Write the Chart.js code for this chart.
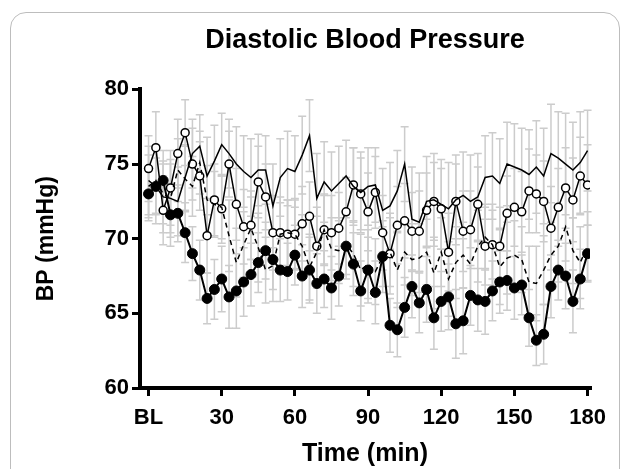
<!DOCTYPE html>
<html>
<head>
<meta charset="utf-8">
<script src="https://cdn.jsdelivr.net/npm/chart.js@4.4.1/dist/chart.umd.min.js"></script>
<style>
  html, body { margin: 0; padding: 0; background: #fff; overflow: hidden; }
  #frame { position: absolute; left: 10px; top: 12px; width: 608px; height: 490px;
           border: 1.5px solid #bdbdbd; border-radius: 16px; }
  #wrap { position: absolute; left: 0; top: 0; width: 630px; height: 469px; }
</style>
</head>
<body>
<div id="frame"></div>
<div id="wrap"><canvas id="bp"></canvas></div>
<script>
// time points (min), BL = 0
const times = [0,3,6,9,12,15,18,21,24,27,30,33,36,39,42,45,48,51,54,57,
  60,63,66,69,72,75,78,81,84,87,90,93,96,99,102,105,108,111,114,117,
  120,123,126,129,132,135,138,141,144,147,150,153,156,159,162,165,168,171,174,177,180];

const xTicks = [0, 30, 60, 90, 120, 150, 180];
const xTickLabels = ["BL", "30", "60", "90", "120", "150", "180"];
const yTicks = [60, 65, 70, 75, 80];

// solid line, no markers
const solidMean = [73.9,73.5,72.8,72.7,72.5,74.1,75.7,76.2,74.2,75.2,
  76.3,75.7,75.0,74.5,74.1,74.6,74.6,72.2,74.1,74.7,
  74.5,75.6,76.9,72.7,73.8,73.2,73.7,74.2,73.5,73.1,
  73.5,73.6,71.9,72.2,73.2,75.0,71.3,71.1,72.5,72.6,
  72.3,72.0,72.6,72.9,72.5,72.8,74.1,74.2,73.7,75.0,
  74.8,74.6,74.3,74.8,74.2,75.7,75.4,75.0,74.6,75.1,75.9];
const solidErr = [2.3,2.5,2.4,2.6,2.3,2.2,2.3,2.1,2.6,2.4,
  2.1,2.3,2.5,2.4,2.6,2.4,2.3,2.8,2.6,2.5,
  2.4,2.6,2.4,3.0,2.7,2.6,2.5,2.4,2.6,2.7,
  2.6,2.5,2.8,2.9,2.7,2.5,3.5,3.3,3.0,3.1,
  3.0,3.1,3.0,2.9,3.1,2.9,2.8,2.9,3.0,2.8,
  2.9,2.8,3.0,3.1,3.2,3.3,3.1,3.4,3.2,3.4,2.7];

// open circles
const openMean = [74.7,76.1,71.9,73.4,75.7,77.1,75.0,74.2,70.2,72.6,
  72.0,75.0,72.3,70.8,70.9,73.8,72.8,70.4,70.4,70.3,
  70.3,71.0,71.5,69.5,70.6,70.4,70.7,71.8,73.6,73.0,
  71.8,73.1,70.4,69.0,70.9,71.2,70.5,70.5,71.9,72.5,
  72.0,69.1,72.5,70.5,70.6,72.3,69.5,69.6,69.5,71.7,
  72.1,71.8,73.2,73.0,72.5,70.7,72.1,73.4,72.6,74.2,73.6];
const openErr = [2.2,2.4,2.3,2.5,2.3,2.2,2.4,2.3,2.5,2.4,
  2.3,2.2,2.4,2.5,2.3,2.4,2.2,2.5,2.4,2.3,
  2.4,2.5,2.3,2.6,2.4,2.5,2.4,2.3,2.5,2.4,
  2.6,2.4,2.5,2.7,2.6,2.5,2.6,2.7,2.5,2.6,
  2.7,2.6,2.5,2.7,2.6,2.5,2.6,2.7,2.6,2.5,
  2.6,2.7,2.8,2.6,2.7,2.8,2.6,2.7,2.8,2.6,2.7];

// dashed line, no markers
const dashedMean = [73.5,73.9,73.0,72.7,74.6,74.0,73.5,75.1,72.6,72.3,
  72.1,70.2,68.4,69.6,70.7,69.4,67.9,68.2,70.3,70.4,
  70.3,69.5,68.1,69.1,70.6,69.3,69.2,69.6,69.0,67.9,
  68.3,67.8,68.8,69.1,67.9,69.1,68.6,68.7,69.1,67.7,
  69.1,67.3,68.4,68.9,68.3,69.5,70.1,69.6,68.1,68.7,
  68.9,68.6,67.1,67.0,67.9,68.9,69.5,70.8,69.2,68.4,69.5];
const dashedErr = [2.1,2.2,2.0,2.3,2.1,2.2,2.0,2.1,2.3,2.2,
  2.1,2.4,2.3,2.2,2.1,2.3,2.2,2.4,2.1,2.2,
  2.3,2.1,2.2,2.4,2.3,2.1,2.2,2.3,2.2,2.4,
  2.3,2.2,2.4,2.3,2.5,2.2,2.4,2.3,2.2,2.4,
  2.3,2.5,2.4,2.2,2.3,2.4,2.2,2.3,2.5,2.4,
  2.3,2.2,2.4,2.5,2.3,2.2,2.4,2.3,2.2,2.4,2.3];

// filled circles
const filledMean = [73.0,73.5,73.9,71.6,71.7,70.4,69.0,67.9,66.0,66.6,
  67.3,66.1,66.5,67.1,67.6,68.4,69.2,68.6,67.9,67.8,
  68.9,67.5,67.9,67.0,67.3,66.7,67.5,69.5,68.3,66.5,
  67.9,66.4,68.8,64.2,63.9,65.4,66.8,65.7,66.6,64.7,
  65.8,66.1,64.3,64.5,66.2,65.9,65.8,66.5,67.1,67.2,
  66.7,66.9,64.7,63.2,63.6,66.8,67.9,67.5,65.8,67.3,69.0];
const filledErr = [1.8,1.9,2.0,2.1,1.9,2.0,1.8,2.0,1.7,2.0,
  2.2,2.1,2.5,2.3,2.1,2.0,1.9,2.0,2.1,1.9,
  2.0,2.1,2.2,2.0,1.9,2.1,2.0,1.9,2.1,2.0,
  2.2,2.1,2.0,1.8,1.8,2.0,2.1,2.0,2.2,2.1,
  2.0,2.2,2.3,2.2,2.0,2.1,2.2,2.0,2.1,2.0,
  2.1,2.0,1.9,1.7,2.0,2.1,2.0,2.2,2.1,2.0,1.9];

const toPoints = (ys) => times.map((t, i) => ({ x: t, y: ys[i] }));

// grey SEM bars with caps, drawn under the lines
const errorBars = {
  id: "errorBars",
  beforeDatasetsDraw(chart) {
    const ctx = chart.ctx;
    const xs = chart.scales.x, ys = chart.scales.y;
    ctx.save();
    ctx.strokeStyle = "#cccccc";
    ctx.lineWidth = 1.5;
    chart.data.datasets.forEach((ds) => {
      ds.data.forEach((p, i) => {
        const e = ds.errors[i];
        if (e == null || p.y == null) return;
        const x = xs.getPixelForValue(p.x);
        const top = ys.getPixelForValue(p.y + e);
        const bot = ys.getPixelForValue(p.y - e);
        ctx.beginPath();
        ctx.moveTo(x, top); ctx.lineTo(x, bot);
        ctx.moveTo(x - 4, top); ctx.lineTo(x + 4, top);
        ctx.moveTo(x - 4, bot); ctx.lineTo(x + 4, bot);
        ctx.stroke();
      });
    });
    ctx.restore();
  }
};

Chart.defaults.font.family = "'Liberation Sans', Arial, sans-serif";
Chart.defaults.color = "#000";

const boldFont = (size) => ({ size: size, weight: "bold" });

new Chart(document.getElementById("bp"), {
  type: "line",
  data: {
    datasets: [
      {
        data: toPoints(solidMean), errors: solidErr,
        borderColor: "#000", borderWidth: 1.5, pointRadius: 0, tension: 0
      },
      {
        data: toPoints(dashedMean), errors: dashedErr,
        borderColor: "#000", borderWidth: 1.5, borderDash: [5, 4], pointRadius: 0, tension: 0
      },
      {
        data: toPoints(openMean), errors: openErr,
        borderColor: "#000", borderWidth: 1.5, tension: 0,
        pointRadius: 4, pointBackgroundColor: "#fff", pointBorderColor: "#000", pointBorderWidth: 1.5
      },
      {
        data: toPoints(filledMean), errors: filledErr,
        borderColor: "#000", borderWidth: 2, tension: 0,
        pointRadius: 5, pointBackgroundColor: "#000", pointBorderColor: "#000", pointBorderWidth: 1
      }
    ]
  },
  options: {
    responsive: true,
    maintainAspectRatio: false,
    animation: false,
    layout: { padding: { left: 0, right: 40, top: 0, bottom: 0 } },
    plugins: {
      legend: { display: false },
      tooltip: { enabled: false },
      title: {
        display: true,
        text: "Diastolic Blood Pressure",
        fullSize: false,
        font: boldFont(27),
        color: "#000",
        padding: { top: 24, bottom: 33 }
      }
    },
    scales: {
      x: {
        type: "linear",
        min: -3.5,
        max: 181,
        afterBuildTicks: (axis) => { axis.ticks = xTicks.map((v) => ({ value: v })); },
        afterFit: (scale) => { scale.height = 81; },
        ticks: {
          callback: (v) => xTickLabels[xTicks.indexOf(v)],
          font: boldFont(22),
          color: "#000",
          padding: 9,
          autoSkip: false,
          maxRotation: 0
        },
        grid: { drawOnChartArea: false, drawTicks: true, tickLength: 8, lineWidth: 3, color: "#000" },
        border: { display: true, width: 4, color: "#000" },
        title: {
          display: true,
          text: "Time (min)",
          font: boldFont(25),
          color: "#000",
          padding: { top: 4, bottom: 0 }
        }
      },
      y: {
        min: 60,
        max: 80,
        afterBuildTicks: (axis) => { axis.ticks = yTicks.map((v) => ({ value: v })); },
        afterFit: (scale) => { scale.width = 140; },
        ticks: { font: boldFont(22), color: "#000", padding: 3 },
        grid: { drawOnChartArea: false, drawTicks: true, tickLength: 8, lineWidth: 3, color: "#000" },
        border: { display: true, width: 4, color: "#000" },
        title: {
          display: true,
          text: "BP (mmHg)",
          font: boldFont(23),
          color: "#000",
          padding: { top: 33, bottom: 0 }
        }
      }
    }
  },
  plugins: [errorBars]
});
</script>
</body>
</html>
